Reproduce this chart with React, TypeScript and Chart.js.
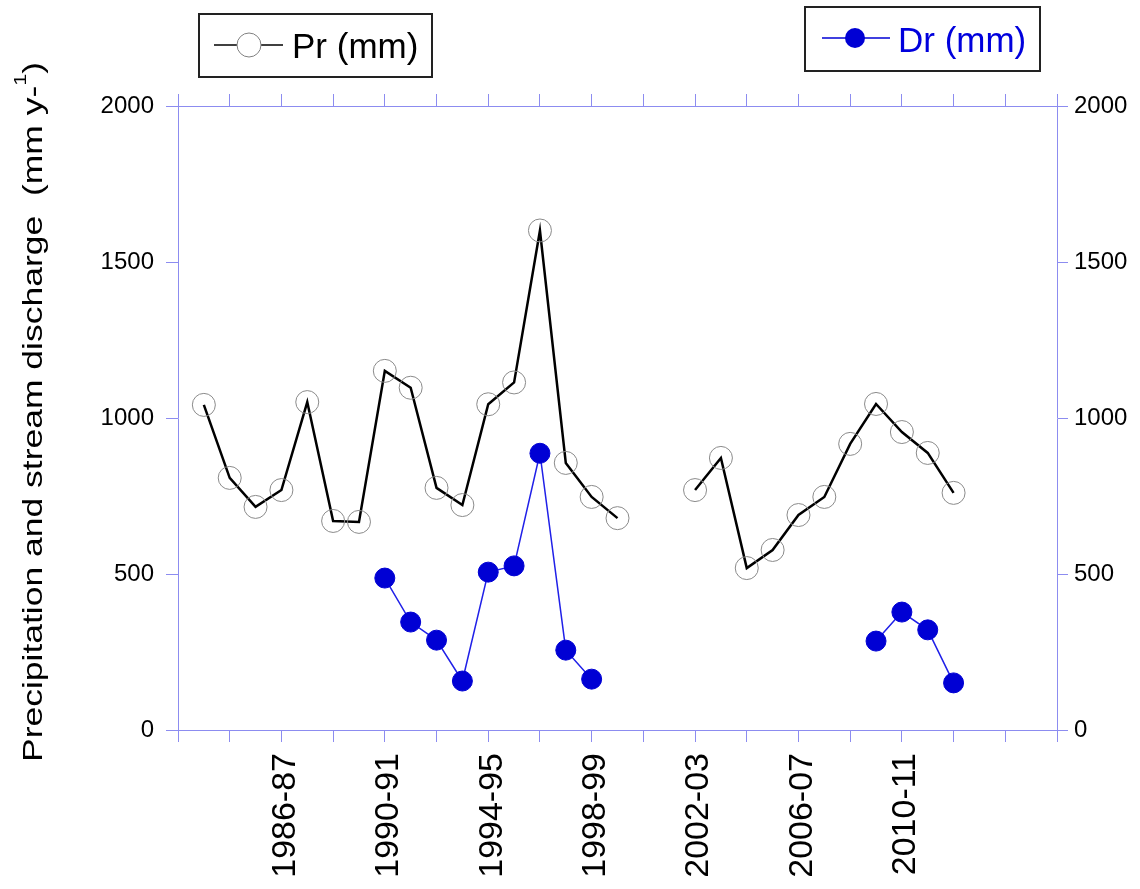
import React, { useEffect, useRef } from 'react';
import { Chart, registerables } from 'chart.js';

Chart.register(...registerables);

// ---- data ----
const seasons = [
  '1982-83', '1983-84', '1984-85', '1985-86', '1986-87', '1987-88', '1988-89', '1989-90',
  '1990-91', '1991-92', '1992-93', '1993-94', '1994-95', '1995-96', '1996-97', '1997-98',
  '1998-99', '1999-00', '2000-01', '2001-02', '2002-03', '2003-04', '2004-05', '2005-06',
  '2006-07', '2007-08', '2008-09', '2009-10', '2010-11', '2011-12', '2012-13', '2013-14',
  '2014-15', '2015-16', '2016-17',
];
const labeledSeasons = ['1986-87', '1990-91', '1994-95', '1998-99', '2002-03', '2006-07', '2010-11'];

const prValues: (number | null)[] = [
  null, 1042, 808, 715, 769, 1051, 670, 667,
  1151, 1097, 776, 721, 1044, 1114, 1601, 856,
  747, 679, null, null, 769, 872, 519, 577,
  689, 747, 917, 1045, 955, 888, 760, null,
  null, null, null,
];
const drValues: (number | null)[] = [
  null, null, null, null, null, null, null, null,
  487, 346, 288, 157, 506, 526, 887, 256,
  163, null, null, null, null, null, null, null,
  null, null, null, 285, 378, 321, 151, null,
  null, null, null,
];

const yMin = 0;
const yMax = 2000;
const yStep = 500;
const seriesNames = ['Pr (mm)', 'Dr (mm)'];
const yTitleMain = 'Precipitation and stream discharge  (mm y-';
const yTitleSup = '1';
const yTitleEnd = ')';

// ---- styles ----
const FONT = '"Liberation Sans", Arial, Helvetica, sans-serif';
const AXIS = '#8c8cf0';
const BLUE = '#0000d4';

const overlayPlugin = {
  id: 'overlay',
  afterDraw(chart: any) {
    const ctx = chart.ctx as CanvasRenderingContext2D;
    ctx.save();
    // Y axis title with superscript
    ctx.translate(42, 412);
    ctx.rotate(-Math.PI / 2);
    ctx.fillStyle = '#000';
    ctx.textBaseline = 'alphabetic';
    ctx.textAlign = 'left';
    const mainFont = `28px ${FONT}`;
    const supFont = `17px ${FONT}`;
    ctx.font = mainFont;
    const w1 = ctx.measureText(yTitleMain).width;
    const w3 = ctx.measureText(yTitleEnd).width;
    ctx.font = supFont;
    const w2 = ctx.measureText(yTitleSup).width;
    const total = w1 + w2 + w3;
    const sx = 700 / total;
    ctx.scale(sx, 1);
    let x = -total / 2;
    ctx.font = mainFont;
    ctx.fillText(yTitleMain, x, 0);
    x += w1;
    ctx.font = supFont;
    ctx.fillText(yTitleSup, x, -16);
    x += w2;
    ctx.font = mainFont;
    ctx.fillText(yTitleEnd, x, 0);
    ctx.restore();

    // Legend boxes
    ctx.save();
    ctx.font = `35px ${FONT}`;
    ctx.textBaseline = 'alphabetic';
    ctx.textAlign = 'left';
    // Pr box
    ctx.lineWidth = 2;
    ctx.strokeStyle = '#222';
    ctx.strokeRect(199, 14, 233, 63);
    ctx.beginPath();
    ctx.moveTo(214, 45);
    ctx.lineTo(283, 45);
    ctx.strokeStyle = '#000';
    ctx.lineWidth = 1.5;
    ctx.stroke();
    ctx.beginPath();
    ctx.arc(249, 45, 12, 0, Math.PI * 2);
    ctx.fillStyle = '#fff';
    ctx.fill();
    ctx.strokeStyle = '#808080';
    ctx.lineWidth = 1;
    ctx.stroke();
    ctx.fillStyle = '#000';
    ctx.fillText(seriesNames[0], 292, 58);
    // Dr box
    ctx.lineWidth = 2;
    ctx.strokeStyle = '#222';
    ctx.strokeRect(805, 7, 235, 64);
    ctx.beginPath();
    ctx.moveTo(822, 38);
    ctx.lineTo(890, 38);
    ctx.strokeStyle = BLUE;
    ctx.lineWidth = 1.5;
    ctx.stroke();
    ctx.beginPath();
    ctx.arc(855, 38, 10, 0, Math.PI * 2);
    ctx.fillStyle = BLUE;
    ctx.fill();
    ctx.fillStyle = '#0000dd';
    ctx.fillText(seriesNames[1], 898, 52);
    ctx.restore();
  },
};

function App() {
  const canvasRef = useRef<HTMLCanvasElement | null>(null);

  useEffect(() => {
    const canvas = canvasRef.current;
    if (!canvas) return;
    const prData = seasons.map((s, i) => ({ x: i, y: prValues[i] }));
    const drData = seasons.map((s, i) => ({ x: i, y: drValues[i] }));
    const xLabel = (v: number) => {
      const s = seasons[Math.round(v)];
      return labeledSeasons.includes(s) ? s : '';
    };
    const yLabel = (v: any) => String(v);

    const chart = new Chart(canvas, {
      type: 'line',
      data: {
        datasets: [
          {
            label: seriesNames[1],
            data: drData,
            yAxisID: 'y2',
            xAxisID: 'x',
            borderColor: '#2020e8',
            borderWidth: 1.5,
            pointRadius: 10,
            pointBackgroundColor: BLUE,
            pointBorderColor: BLUE,
            pointBorderWidth: 1,
            tension: 0,
            spanGaps: false,
          },
          {
            label: seriesNames[0],
            data: prData,
            yAxisID: 'y',
            xAxisID: 'x',
            borderColor: '#000',
            borderWidth: 2.5,
            pointRadius: 11.5,
            pointBackgroundColor: 'rgba(0,0,0,0)',
            pointBorderColor: '#8a8a8a',
            pointBorderWidth: 1,
            tension: 0,
            spanGaps: false,
          },
        ],
      },
      options: {
        responsive: false,
        animation: false,
        events: [],
        layout: { padding: 0 },
        plugins: {
          legend: { display: false },
          tooltip: { enabled: false },
          title: { display: false },
        },
        scales: {
          x: {
            type: 'linear',
            position: 'bottom',
            min: 0,
            max: seasons.length - 1,
            afterFit: (scale: any) => { scale.height = 889 - 730; },
            border: { display: true, color: AXIS, width: 1 },
            grid: { display: true, drawOnChartArea: false, drawTicks: true, tickLength: 12, color: AXIS, lineWidth: 1 },
            ticks: {
              stepSize: 2,
              autoSkip: false,
              maxRotation: 90,
              minRotation: 90,
              padding: 11,
              labelOffset: 4,
              color: '#000',
              font: { family: FONT, size: 34 },
              callback: (v: any) => xLabel(Number(v)),
            },
          },
          xTop: {
            type: 'linear',
            position: 'top',
            min: 0,
            max: seasons.length - 1,
            afterFit: (scale: any) => { scale.height = 106; },
            border: { display: true, color: AXIS, width: 1 },
            grid: { display: true, drawOnChartArea: false, drawTicks: true, tickLength: 12, color: AXIS, lineWidth: 1 },
            ticks: { stepSize: 2, autoSkip: false, display: false },
          },
          y: {
            type: 'linear',
            position: 'left',
            min: yMin,
            max: yMax,
            afterFit: (scale: any) => { scale.width = 178; },
            border: { display: true, color: AXIS, width: 1 },
            grid: { display: true, drawOnChartArea: false, drawTicks: true, tickLength: 12, color: AXIS, lineWidth: 1 },
            ticks: {
              stepSize: yStep,
              padding: 12,
              color: '#000',
              font: { family: FONT, size: 24 },
              callback: yLabel,
            },
          },
          y2: {
            type: 'linear',
            position: 'right',
            min: yMin,
            max: yMax,
            afterFit: (scale: any) => { scale.width = 1140 - 1057; },
            border: { display: true, color: AXIS, width: 1 },
            grid: { display: true, drawOnChartArea: false, drawTicks: true, tickLength: 11, color: AXIS, lineWidth: 1 },
            ticks: {
              stepSize: yStep,
              padding: 6,
              color: '#000',
              font: { family: FONT, size: 24 },
              callback: yLabel,
            },
          },
        },
      },
      plugins: [overlayPlugin],
    } as any);

    return () => {
      chart.destroy();
    };
  }, []);

  return (
    <div style={{ position: 'absolute', left: 0, top: 0, width: 1140, height: 889, background: '#fff' }}>
      <canvas ref={canvasRef} width={1140} height={889} style={{ display: 'block' }} />
    </div>
  );
}

export default App;
